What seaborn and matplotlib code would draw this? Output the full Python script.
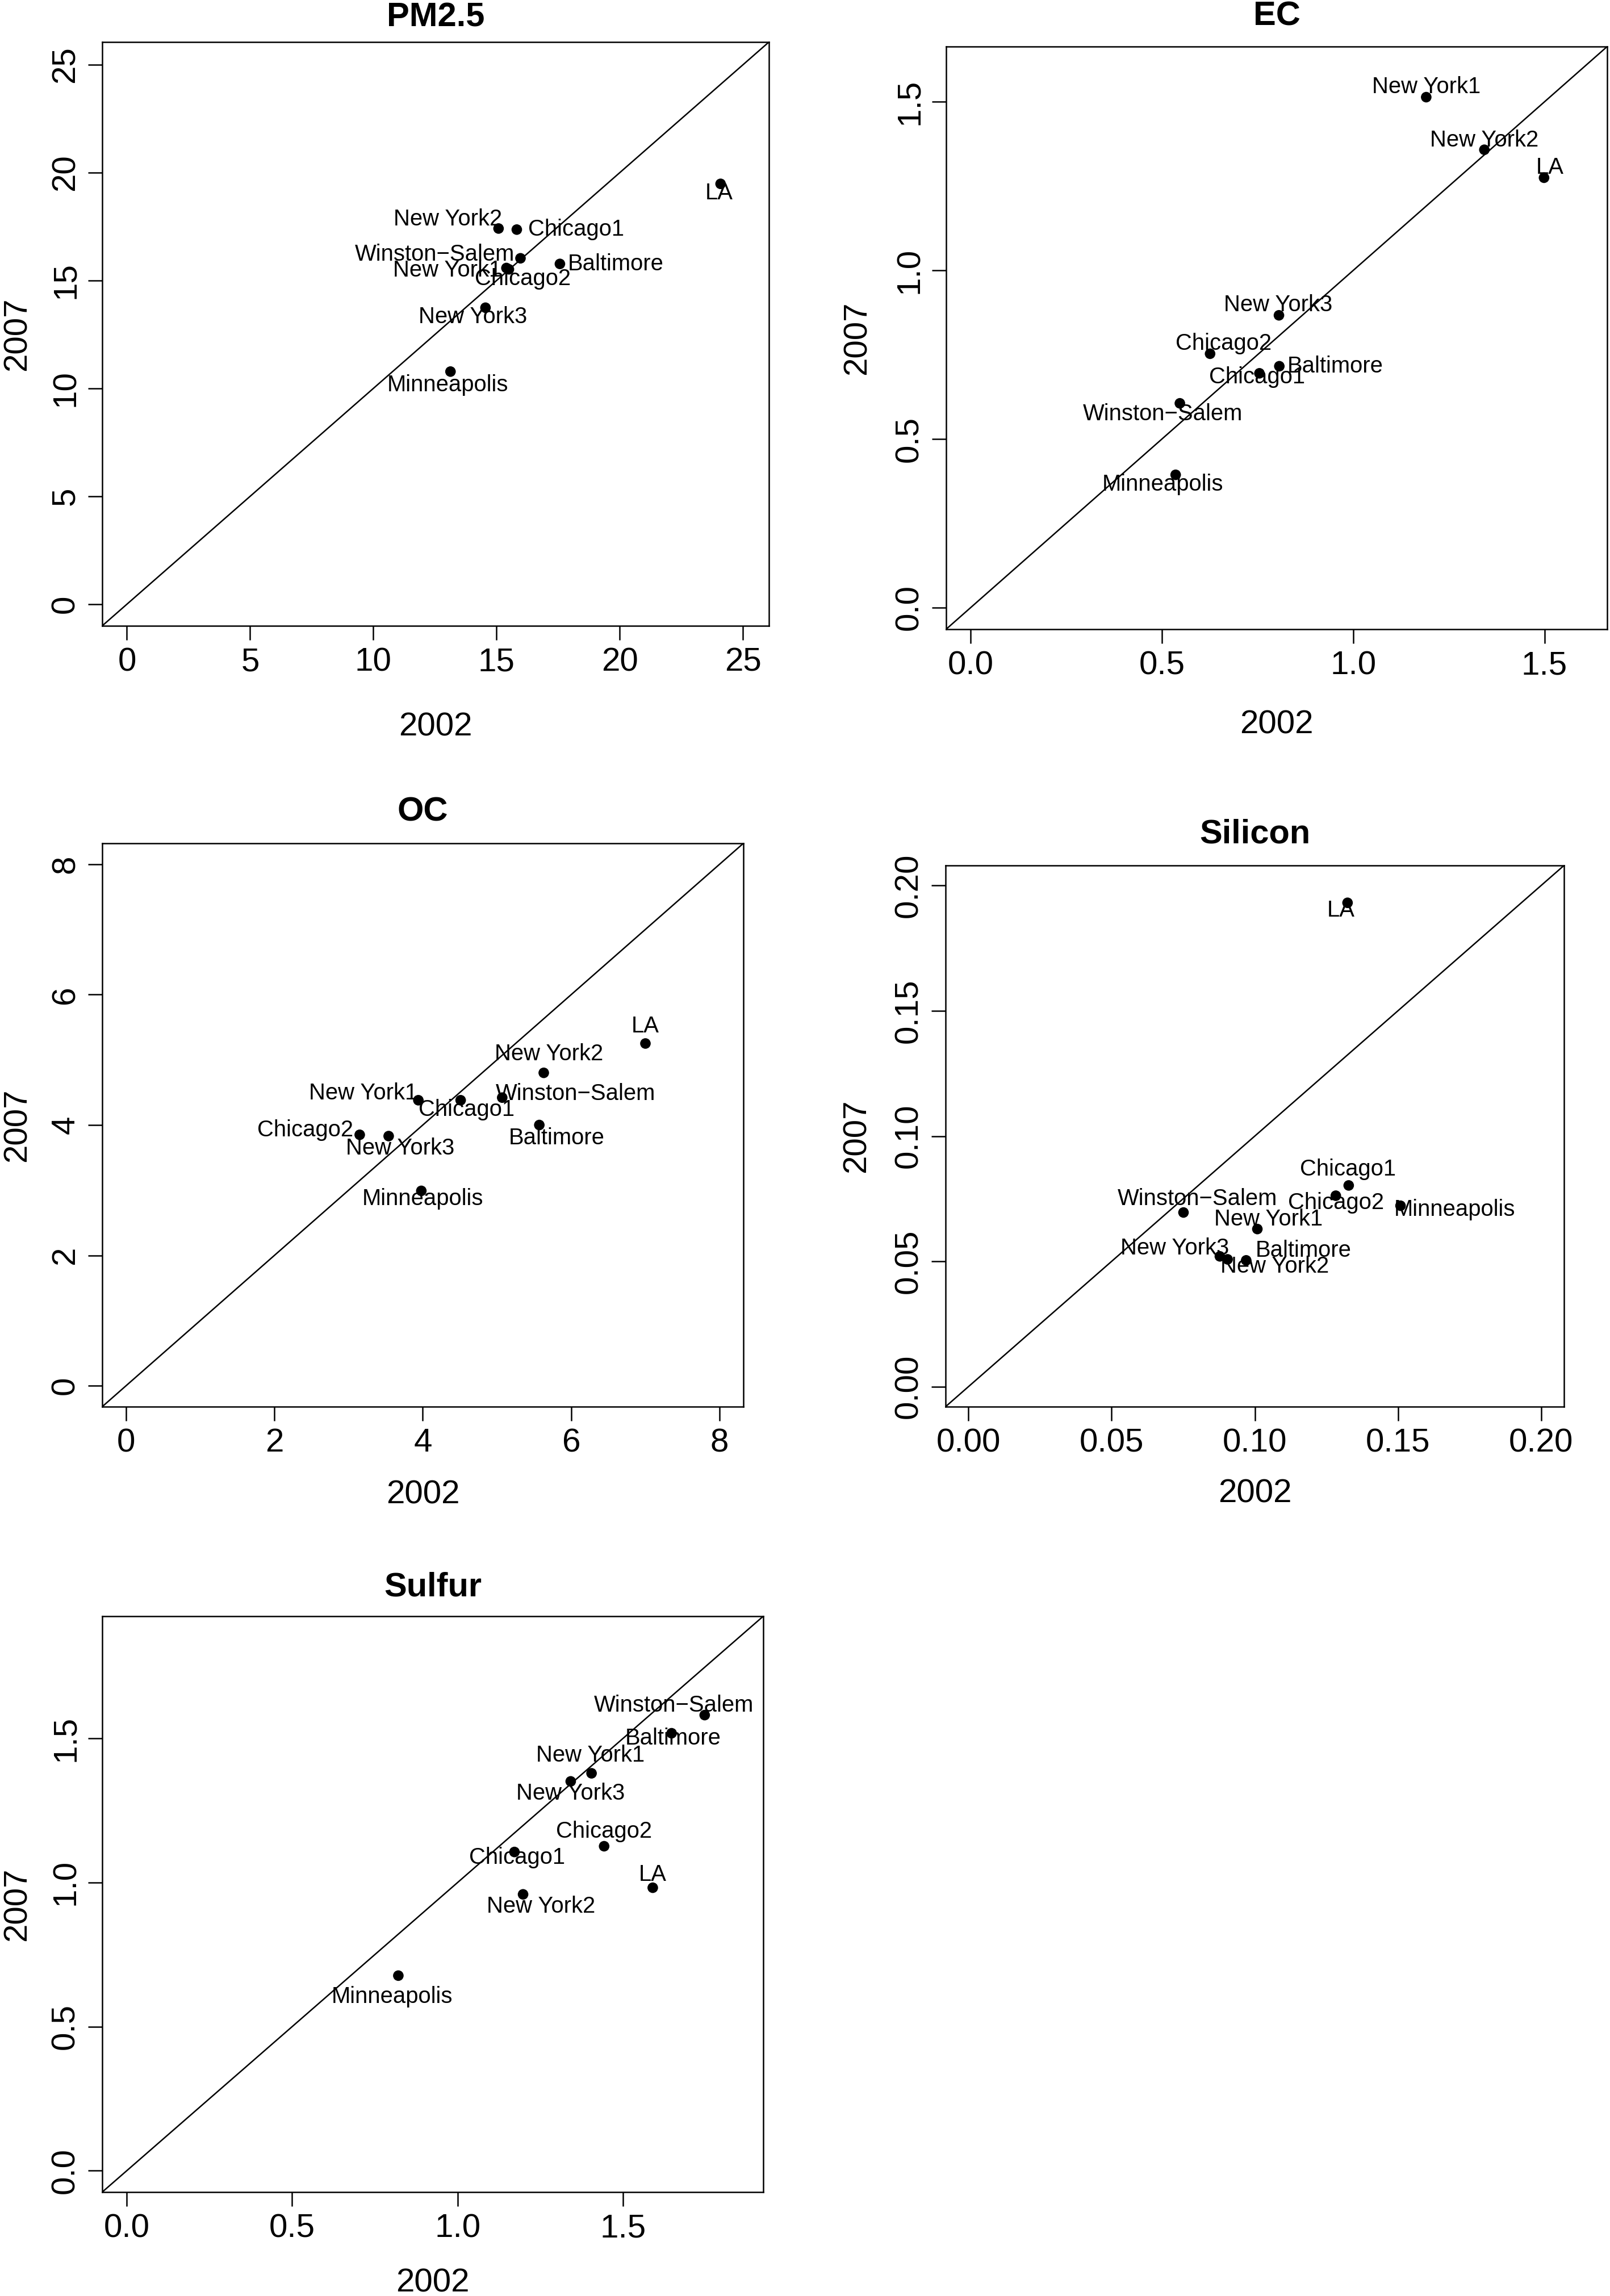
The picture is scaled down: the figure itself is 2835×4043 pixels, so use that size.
import matplotlib
matplotlib.use("Agg")
import matplotlib.pyplot as plt
import seaborn as sns
import pandas as pd

sns.set_theme(style="white")
plt.rcParams['font.family'] = ['Liberation Sans', 'DejaVu Sans']

cities = ["Baltimore", "Chicago1", "Chicago2", "LA", "Minneapolis",
          "New York1", "New York2", "New York3", "Winston\u2212Salem"]

pm25_2002 = [17.57, 15.82, 15.50, 24.09, 13.13, 15.40, 15.08, 14.55, 15.97]
pm25_2007 = [15.77, 17.36, 15.52, 19.48, 10.78, 15.58, 17.41, 13.74, 16.03]

ec_2002 = [0.807, 0.755, 0.626, 1.499, 0.536, 1.191, 1.343, 0.806, 0.547]
ec_2007 = [0.716, 0.695, 0.753, 1.275, 0.394, 1.514, 1.358, 0.867, 0.606]

oc_2002 = [5.57, 4.51, 3.15, 7.00, 3.98, 3.94, 5.63, 3.54, 5.07]
oc_2007 = [4.00, 4.38, 3.85, 5.25, 2.99, 4.38, 4.80, 3.83, 4.42]

si_2002 = [0.0970, 0.1328, 0.1283, 0.1324, 0.1509, 0.1009, 0.0905, 0.0878, 0.0751]
si_2007 = [0.0504, 0.0803, 0.0762, 0.1931, 0.0722, 0.0629, 0.0508, 0.0520, 0.0695]

s_2002 = [1.647, 1.172, 1.443, 1.590, 0.821, 1.405, 1.198, 1.342, 1.747]
s_2007 = [1.518, 1.106, 1.126, 0.982, 0.677, 1.379, 0.959, 1.351, 1.581]

titles = ["PM2.5", "EC", "OC", "Silicon", "Sulfur"]
ticks = [[0, 5, 10, 15, 20, 25],
         [0.0, 0.5, 1.0, 1.5],
         [0, 2, 4, 6, 8],
         [0.00, 0.05, 0.10, 0.15, 0.20],
         [0.0, 0.5, 1.0, 1.5]]
tick_fmt = ["{:.0f}", "{:.1f}", "{:.0f}", "{:.2f}", "{:.1f}"]
axis_max = [25.05, 1.6, 8.0, 0.2, 1.85]

series = [(pm25_2002, pm25_2007), (ec_2002, ec_2007), (oc_2002, oc_2007),
          (si_2002, si_2007), (s_2002, s_2007)]

# label offsets in points (dx, dy), same order as cities
label_offsets = [
    [(23.6, 0), (25.2, 0), (5.9, -4), (-0.7, -4), (-1.1, -5.8), (-25, -1), (-21.5, 4), (-5.4, -4), (-36.2, 1.6)],
    [(23.7, 0), (-0.9, -1.6), (5.6, 4.2), (2.4, 4.4), (-5.4, -4), (0, 4.4), (0, 4), (-0.4, 4.4), (-7.2, -4.6)],
    [(7.3, -5.6), (2.6, -4), (-23.1, 2), (0, 7.2), (0.6, -3.4), (-23.3, 3), (2.1, 8), (4.9, -5.2), (31, 1.6)],
    [(24.1, 4.1), (-0.2, 6.9), (0, -2.9), (-2.8, -3.3), (23, -1.6), (4.8, 4.1), (20, -3.1), (-19.1, 3.5), (5.9, 5.7)],
    [(0.6, -2.2), (1.1, -2.4), (0, 6.2), (0, 5.6), (-2.6, -8.8), (-0.6, 7.6), (7.5, -5), (0, -5), (-13, 4.2)],
]

W, H = 2835, 4043
boxes_px = [(180, 1354, 74, 1102),
            (1666, 2830, 82, 1108),
            (180, 1309, 1485, 2477),
            (1665, 2754, 1524, 2477),
            (180, 1344, 2846, 3860)]
title_pads = [6.7, 9.0, 9.6, 9.4, 8.6]
xlabel_pads = [14.5, 12.0, 9.0, 8.5, 10.0]
ylabel_pads = [7.5, 9.0, 7.5, 9.0, 7.5]

fig = plt.figure(figsize=(W / 300, H / 300), dpi=300)

for i, (title, (xv, yv)) in enumerate(zip(titles, series)):
    l, r, t, b = boxes_px[i]
    ax = fig.add_axes([l / W, 1 - b / H, (r - l) / W, (b - t) / H])
    df = pd.DataFrame({"city": cities, "y2002": xv, "y2007": yv})
    m = axis_max[i]
    lo, hi = -0.04 * m, 1.04 * m
    ax.set_xlim(lo, hi)
    ax.set_ylim(lo, hi)
    ax.axline((0, 0), slope=1, color="black", lw=0.6, zorder=1)
    sns.scatterplot(data=df, x="y2002", y="y2007", ax=ax, color="black",
                    s=20, edgecolor="none", linewidth=0, zorder=3, legend=False)
    for name, xx, yy, (dx, dy) in zip(cities, xv, yv, label_offsets[i]):
        ax.annotate(name, (xx, yy), xytext=(dx, dy), textcoords="offset points",
                    ha="center", va="center", fontsize=9.6, color="black", zorder=4)
    tk = ticks[i]
    ax.set_xticks(tk)
    ax.set_yticks(tk)
    ax.set_xticklabels([tick_fmt[i].format(v) for v in tk])
    ax.set_yticklabels([tick_fmt[i].format(v) for v in tk], rotation=90, va="center")
    ax.tick_params(axis="both", direction="out", length=6, width=0.6, pad=3,
                   labelsize=14, colors="black", bottom=True, left=True)
    for sp in ax.spines.values():
        sp.set_visible(True)
        sp.set_color("black")
        sp.set_linewidth(0.6)
    ax.set_xlabel("2002", fontsize=14, labelpad=xlabel_pads[i], color="black")
    ax.set_ylabel("2007", fontsize=14, labelpad=ylabel_pads[i], color="black")
    ax.set_title(title, fontsize=14.3, fontweight="bold", pad=title_pads[i], color="black")
    ax.grid(False)

fig.savefig("out.png", dpi=300, facecolor="white")
